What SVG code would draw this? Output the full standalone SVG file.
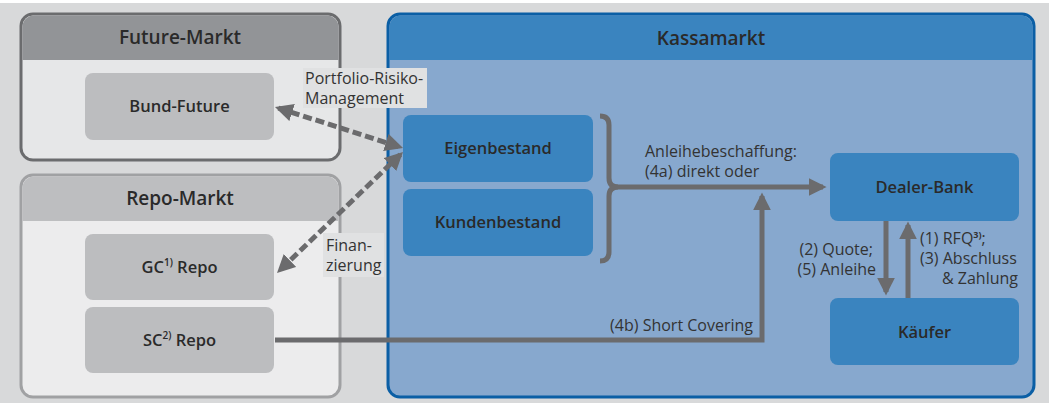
<svg xmlns="http://www.w3.org/2000/svg" width="1049" height="403" viewBox="0 0 1049 403">
<style>
.title{font-family:"Open Sans",sans-serif;font-weight:600;font-size:19px;fill:#2a2a2a;text-anchor:middle}
.node{font-family:"Open Sans",sans-serif;font-weight:600;font-size:16.5px;fill:#2a2a2a;text-anchor:middle}
.lbl{font-family:"Open Sans",sans-serif;font-weight:400;font-size:16px;fill:#333}
.gbox{fill:#bcbdbf}
.bbox{fill:#3a84bf}
.conn{fill:none;stroke:#6b6b6d;stroke-width:5}
.dash{fill:none;stroke:#6b6b6d;stroke-width:5;stroke-dasharray:9 4}
</style>
<defs>
<marker id="ah" viewBox="0 0 10 10" refX="8" refY="5" markerWidth="3.6" markerHeight="3.6" orient="auto-start-reverse" markerUnits="strokeWidth">
<path d="M0,0 L10,5 L0,10 z" fill="#6b6b6d"/>
</marker>
</defs>
<rect x="0" y="3" width="1049" height="400" fill="#d8d9da"/>

<g id="future-markt">
<rect x="21" y="14" width="319" height="146" rx="12" fill="#e6e7e8" stroke="#6b6c6e" stroke-width="3"/>
<path d="M22.5,60 V27 a11.5,11.5 0 0 1 11.5,-11.5 H327 a11.5,11.5 0 0 1 11.5,11.5 V60 z" fill="#929497"/>
<text class="title" x="180" y="44">Future-Markt</text>
</g>
<g id="bund-future">
<rect class="gbox" x="85" y="73" width="189" height="67" rx="8"/>
<text class="node" x="179.5" y="112">Bund-Future</text>
</g>

<g id="repo-markt">
<rect x="21" y="175" width="319" height="222" rx="12" fill="#ececed" stroke="#a0a1a3" stroke-width="3"/>
<path d="M22.5,221 V188 a11.5,11.5 0 0 1 11.5,-11.5 H327 a11.5,11.5 0 0 1 11.5,11.5 V221 z" fill="#bdbec0"/>
<text class="title" x="180" y="205">Repo-Markt</text>
</g>
<g id="gc-repo">
<rect class="gbox" x="85" y="234" width="189" height="66" rx="8"/>
<text class="node" x="179.5" y="273">GC<tspan font-size="10" dy="-7">1)</tspan><tspan dy="7"> Repo</tspan></text>
</g>
<g id="sc-repo">
<rect class="gbox" x="85" y="307" width="189" height="66" rx="8"/>
<text class="node" x="179.5" y="346">SC<tspan font-size="10" dy="-7">2)</tspan><tspan dy="7"> Repo</tspan></text>
</g>

<g id="kassamarkt">
<rect x="388" y="14" width="646" height="383" rx="12" fill="#87a8ce" stroke="#0b5fa5" stroke-width="3"/>
<path d="M389.5,60 V27 a11.5,11.5 0 0 1 11.5,-11.5 H1021 a11.5,11.5 0 0 1 11.5,11.5 V60 z" fill="#3a84bf"/>
<text class="title" x="711" y="45">Kassamarkt</text>
</g>
<g id="eigenbestand">
<rect class="bbox" x="403" y="115" width="190" height="67" rx="8"/>
<text class="node" x="498" y="154">Eigenbestand</text>
</g>
<g id="kundenbestand">
<rect class="bbox" x="403" y="189" width="190" height="67" rx="8"/>
<text class="node" x="498" y="228">Kundenbestand</text>
</g>
<g id="dealer-bank">
<rect class="bbox" x="830" y="153" width="189" height="68" rx="8"/>
<text class="node" x="924.5" y="193">Dealer-Bank</text>
</g>
<g id="kaeufer">
<rect class="bbox" x="830" y="298" width="189" height="67" rx="8"/>
<text class="node" x="924.5" y="338">Käufer</text>
</g>

<g id="connectors">
<path class="conn" d="M600,116 Q609,116 609,125 V178 Q609,187 618,187 H823" marker-end="url(#ah)"/>
<path class="conn" d="M618,187 Q609,187 609,196 V252 Q609,261 600,261"/>
<path class="conn" d="M275,340 H762 V196" marker-end="url(#ah)"/>
<path class="conn" d="M886,221 V292" marker-end="url(#ah)"/>
<path class="conn" d="M908,298 V225" marker-end="url(#ah)"/>
<path class="dash" d="M278.4,108.1 L399.6,146.9" marker-start="url(#ah)" marker-end="url(#ah)"/>
<path class="dash" d="M400.4,154.5 L279.6,270.5" marker-start="url(#ah)" marker-end="url(#ah)"/>

<rect x="303" y="68" width="124" height="40" fill="#e0e1e2"/>
<text class="lbl" x="305" y="84">Portfolio-Risiko-</text>
<text class="lbl" x="305" y="104">Management</text>
<rect x="323" y="233" width="61" height="44" fill="#e0e1e2"/>
<text class="lbl" x="326" y="251">Finan-</text>
<text class="lbl" x="326" y="271">zierung</text>

<text class="lbl" x="645" y="157">Anleihebeschaffung:</text>
<text class="lbl" x="645" y="177">(4a) direkt oder</text>
<text class="lbl" x="753" y="331" text-anchor="end">(4b) Short Covering</text>
<text class="lbl" x="873" y="255" text-anchor="end">(2) Quote;</text>
<text class="lbl" x="876" y="275" text-anchor="end">(5) Anleihe</text>
<text class="lbl" x="920" y="244">(1) RFQ<tspan font-size="9" font-weight="700" dy="-6">3)</tspan><tspan dy="6">;</tspan></text>
<text class="lbl" x="920" y="264">(3) Abschluss</text>
<text class="lbl" x="1018" y="284" text-anchor="end">&amp; Zahlung</text>
</g>
</svg>
